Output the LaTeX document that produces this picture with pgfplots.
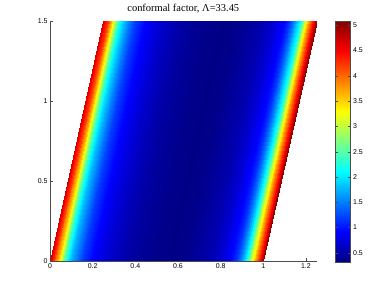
\documentclass[border=0pt]{standalone}
\usepackage{fontspec}
\setmainfont{Liberation Sans}
\newfontfamily\titlefont{Liberation Serif}
\usepackage{pgfplots}
\pgfplotsset{compat=1.18}
\begin{document}
\begin{tikzpicture}
\path[use as bounding box] (0,0) rectangle (390bp,293bp);
\begin{axis}[
  at={(50bp,32bp)}, anchor=south west,
  scale only axis, width=266.6bp, height=240bp,
  xmin=0, xmax=1.25, ymin=0, ymax=1.5,
  axis lines*=left,
  axis line style={black!70},
  tick style={black!70},
  tick align=inside,
  major tick length=3bp,
  xtick={0,0.2,0.4,0.6,0.8,1,1.2},
  ytick={0,0.5,1,1.5},
  tick label style={font=\fontsize{7}{8}\selectfont},
  /pgf/number format/assume math mode=true,
  xticklabel style={yshift=1bp},
  yticklabel style={xshift=1bp},
  title={\titlefont\fontsize{10.5}{12}\selectfont conformal factor, Λ=33.45},
  title style={yshift=-1.5bp},
  colormap/jet,
  point meta min=0.32, point meta max=5.08,
  colorbar,
  colorbar style={
    at={(parent axis.north east)}, anchor=north west, xshift=10.5bp,
    width=15bp, height=241bp,
    ytick={0.5,1,1.5,2,2.5,3,3.5,4,4.5,5},
    tick align=inside,
    major tick length=2.5bp,
    tick style={black!70},
    axis line style={black!70},
    tick label style={font=\fontsize{7}{8}\selectfont},
    /pgf/number format/assume math mode=true,
    yticklabel style={xshift=-1bp},
  },
]
\addplot[surf, shader=interp, mesh/rows=2, point meta=explicit] table[x=x, y=y, meta=z] {
x y z
0.00 0 4.7
0.01 0 4.45
0.02 0 4.2
0.03 0 3.85
0.04 0 3.5
0.05 0 3.1
0.06 0 2.7
0.07 0 2.4
0.08 0 2.1
0.10 0 1.75
0.12 0 1.5
0.15 0 1.2
0.19 0 0.95
0.25 0 0.75
0.30 0 0.62
0.36 0 0.5
0.42 0 0.43
0.50 0 0.37
0.56 0 0.35
0.62 0 0.37
0.68 0 0.44
0.75 0 0.55
0.80 0 0.72
0.85 0 0.95
0.87 0 1.15
0.89 0 1.45
0.90 0 1.65
0.91 0 1.85
0.92 0 2.1
0.93 0 2.45
0.94 0 2.9
0.95 0 3.35
0.96 0 3.7
0.97 0 4.0
0.98 0 4.3
0.99 0 4.6
1.00 0 5.0
0.25 1.5 4.7
0.26 1.5 4.45
0.27 1.5 4.2
0.28 1.5 3.85
0.29 1.5 3.5
0.30 1.5 3.1
0.31 1.5 2.7
0.32 1.5 2.4
0.33 1.5 2.1
0.35 1.5 1.75
0.37 1.5 1.5
0.40 1.5 1.2
0.44 1.5 0.95
0.50 1.5 0.75
0.55 1.5 0.62
0.61 1.5 0.5
0.67 1.5 0.43
0.75 1.5 0.37
0.81 1.5 0.35
0.87 1.5 0.37
0.93 1.5 0.44
1.00 1.5 0.55
1.05 1.5 0.72
1.10 1.5 0.95
1.12 1.5 1.15
1.14 1.5 1.45
1.15 1.5 1.65
1.16 1.5 1.85
1.17 1.5 2.1
1.18 1.5 2.45
1.19 1.5 2.9
1.20 1.5 3.35
1.21 1.5 3.7
1.22 1.5 4.0
1.23 1.5 4.3
1.24 1.5 4.6
1.25 1.5 5.0
};
\end{axis}
\end{tikzpicture}
\end{document}
